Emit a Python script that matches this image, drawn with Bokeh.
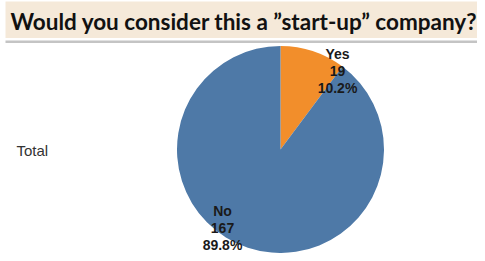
import math
from bokeh.plotting import figure
from bokeh.models import Range1d
from bokeh.core.properties import value
from bokeh.embed import file_html
from bokeh.resources import INLINE

# ---- data ----
categories = ["Yes", "No"]
counts = [19, 167]
percents = ["10.2%", "89.8%"]
colors = ["#f28e2b", "#4e79a7"]
title = "Would you consider this a \u201dstart-up\u201d company?"
row_label = "Total"

W, H = 477, 253
p = figure(width=W, height=H, output_backend="svg", toolbar_location=None,
           x_range=Range1d(0, W), y_range=Range1d(0, H), min_border=0)
p.axis.visible = False
p.grid.visible = False
p.outline_line_color = None
p.background_fill_color = "white"
p.border_fill_color = "white"

def Y(img_y):
    return H - img_y

# title band
p.quad(left=5, right=W, top=Y(1), bottom=Y(37.5), fill_color="#f5e9d9", line_color=None)
p.quad(left=5, right=W, top=Y(40), bottom=Y(42.5), fill_color="#c4c4c4", line_color=None)
p.text(x=[10], y=[Y(21)], text=[title], text_font=value("Lato"), text_font_style="bold",
       text_font_size="22.5px", text_color="#111111", text_baseline="middle", text_align="left")

# row label
p.text(x=[16], y=[Y(150)], text=[row_label], text_font=value("Liberation Sans"),
       text_font_size="15px", text_color="#333333", text_baseline="middle")

# pie
cx, cy, R = 280, Y(149), 103.5
total = sum(counts)
start = math.pi / 2
starts, ends = [], []
for c in counts:
    frac = c / total
    end = start - frac * 2 * math.pi
    starts.append(end)
    ends.append(start)
    start = end
p.wedge(x=[cx] * len(counts), y=[cy] * len(counts), radius=R,
        start_angle=starts, end_angle=ends, fill_color=colors, line_color=None)

# labels (positions relative to centre, middle line)
label_offsets = [(57, 79), (-58, -78)]
for (dx, dy), cat, cnt, pct in zip(label_offsets, categories, counts, percents):
    lines = [cat, str(cnt), pct]
    for i, t in enumerate(lines):
        p.text(x=[cx + dx], y=[cy + dy + 17 - 17 * i], text=[t],
               text_font=value("Liberation Sans"), text_font_style="bold",
               text_font_size="14px", text_color="#1a1a1a",
               text_align="center", text_baseline="middle")

open("out.html", "w").write(file_html(p, INLINE))
